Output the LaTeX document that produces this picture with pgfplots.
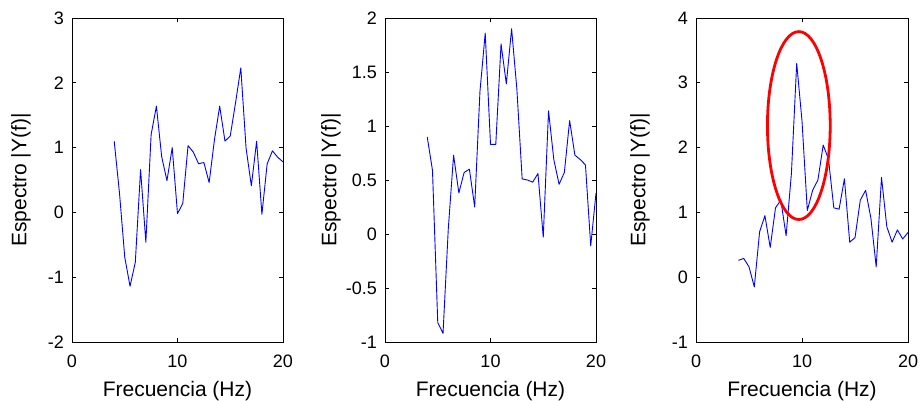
\documentclass[border=0pt]{standalone}
\usepackage{pgfplots}
\pgfplotsset{compat=1.18}
\usepackage{fontspec}
\setmainfont{Liberation Sans}

\pgfplotsset{
  panel/.style={
    scale only axis,
    width=211pt, height=324pt,
    anchor=south west,
    xmin=0, xmax=20,
    xtick={0,10,20},
    tick align=inside,
    major tick length=4pt,
    axis line style={line width=0.9pt},
    every tick/.style={black, line width=0.9pt},
    /pgf/number format/assume math mode=true,
    tick label style={font=\fontsize{18}{20}\selectfont},
    xticklabel style={anchor=base, yshift=-26pt, inner sep=0pt},
    yticklabel style={anchor=east, inner sep=0pt, xshift=-8pt},
    xlabel={Frecuencia (Hz)},
    ylabel={Espectro |Y(f)|},
    every axis x label/.style={at={(axis description cs:0.5,0)}, anchor=base, yshift=-54.7pt, inner sep=0pt, font=\fontsize{21}{24}\selectfont},
    clip=false,
  },
  ylab/.style={every axis y label/.style={at={(axis description cs:0,0.5)}, anchor=center, inner sep=0pt, xshift=#1, rotate=90, font=\fontsize{21}{24}\selectfont}},
  dataline/.style={blue, line width=0.9pt, line join=round},
}

\pgfplotstableread{
x y
4 1.10
4.5 0.30
5 -0.69
5.5 -1.14
6 -0.77
6.5 0.66
7 -0.46
7.5 1.20
8 1.64
8.5 0.86
9 0.49
9.5 1.00
10 -0.02
10.5 0.14
11 1.03
11.5 0.93
12 0.75
12.5 0.77
13 0.46
13.5 1.12
14 1.64
14.5 1.10
15 1.18
15.5 1.69
16 2.23
16.5 0.99
17 0.41
17.5 1.10
18 -0.03
18.5 0.75
19 0.95
19.5 0.85
20 0.78
}\dataA

\pgfplotstableread{
x y
4 0.90
4.5 0.59
5 -0.82
5.5 -0.92
6 0.05
6.5 0.73
7 0.38
7.5 0.57
8 0.60
8.5 0.25
9 1.32
9.5 1.86
10 0.83
10.5 0.83
11 1.76
11.5 1.39
12 1.90
12.5 1.34
13 0.51
13.5 0.50
14 0.48
14.5 0.56
15 -0.03
15.5 1.14
16 0.69
16.5 0.46
17 0.57
17.5 1.05
18 0.73
18.5 0.69
19 0.64
19.5 -0.11
20 0.38
}\dataB

\pgfplotstableread{
x y
4 0.26
4.5 0.29
5 0.16
5.5 -0.15
6 0.70
6.5 0.95
7 0.46
7.5 1.07
8 1.19
8.5 0.64
9 1.60
9.5 3.30
10 2.41
10.5 1.03
11 1.34
11.5 1.50
12 2.04
12.5 1.82
13 1.07
13.5 1.05
14 1.52
14.5 0.54
15 0.61
15.5 1.19
16 1.34
16.5 0.91
17 0.16
17.5 1.54
18 0.78
18.5 0.54
19 0.73
19.5 0.59
20 0.69
}\dataC

\begin{document}
\begin{tikzpicture}
\useasboundingbox (0pt,0pt) rectangle (920pt,401pt);

\begin{axis}[panel, ylab=-51pt, at={(72pt,59pt)}, ymin=-2, ymax=3, ytick={-2,-1,0,1,2,3}]
\addplot[dataline] table[x=x,y=y] {\dataA};
\end{axis}

\begin{axis}[panel, ylab=-54pt, at={(385pt,59pt)}, ymin=-1, ymax=2, ytick={-1,-0.5,0,0.5,1,1.5,2}]
\addplot[dataline] table[x=x,y=y] {\dataB};
\end{axis}

\begin{axis}[panel, ylab=-56pt, at={(696pt,59pt)}, width=212pt, ymin=-1, ymax=4, ytick={-1,0,1,2,3,4}]
\addplot[dataline] table[x=x,y=y] {\dataC};
\draw[red, line width=2.8pt] (axis cs:9.7,2.34) ellipse [x radius=2.96, y radius=1.45];
\end{axis}
\end{tikzpicture}
\end{document}
